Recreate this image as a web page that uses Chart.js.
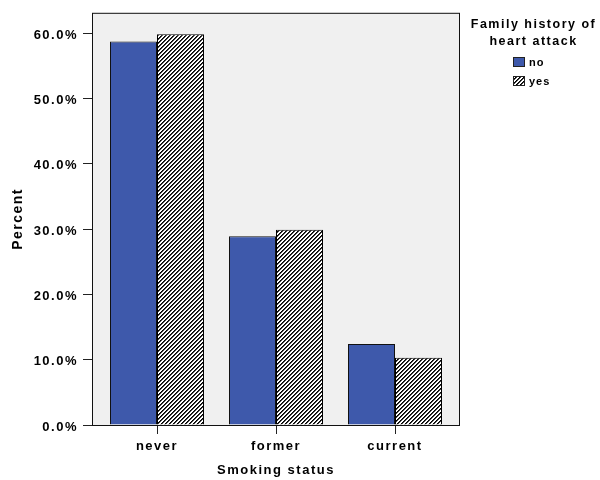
<!DOCTYPE html>
<html>
<head>
<meta charset="utf-8">
<script src="https://cdn.jsdelivr.net/npm/chart.js@4.4.1/dist/chart.umd.min.js"></script>
<style>
  html, body { margin: 0; padding: 0; background: #ffffff; }
  #wrap { width: 600px; height: 480px; }
</style>
</head>
<body>
<div id="wrap"><canvas id="chart" width="600" height="480"></canvas></div>
<script>
// Percent of respondents in each smoking group, split by family history of heart attack
const categories = ['never', 'former', 'current'];
const seriesNames = ['no', 'yes'];
const noValues = [58.7, 28.9, 12.4];
const yesValues = [59.8, 29.9, 10.3];
const yTicks = [0, 10, 20, 30, 40, 50, 60];
const legendTitle = ['Family history of', 'heart attack'];
const xTitle = 'Smoking status';
const yTitle = 'Percent';

const FONT = '"Liberation Sans", Arial, Helvetica, sans-serif';
const BLUE = '#3E59AB';

// Category slots: 119 px apart on a 368 px wide panel, groups of two 47 px bars
const SLOT_PX = 119;
const PANEL_PX = 368;
const X_MIN = -65 / SLOT_PX;
const X_MAX = X_MIN + PANEL_PX / SLOT_PX;

// Diagonal "/" hatch tile for the second series
function makeHatch() {
  const tile = document.createElement('canvas');
  tile.width = 4; tile.height = 4;
  const g = tile.getContext('2d');
  const img = g.createImageData(4, 4);
  for (let y = 0; y < 4; y++) {
    for (let x = 0; x < 4; x++) {
      const k = (x + y) % 4;
      const v = k === 0 ? 0 : (k === 1 ? 60 : 255);
      const i = (y * 4 + x) * 4;
      img.data[i] = v; img.data[i + 1] = v; img.data[i + 2] = v; img.data[i + 3] = 255;
    }
  }
  g.putImageData(img, 0, 0);
  return g.createPattern(tile, 'repeat');
}
const hatch = makeHatch();

// Slightly spaced lettering for every label on the canvas
const letterSpacing = {
  id: 'letterSpacing',
  beforeUpdate(chart) { chart.ctx.letterSpacing = '1.5px'; },
  beforeDraw(chart) { chart.ctx.letterSpacing = '1.5px'; }
};

// Grey plot panel with a thin dark frame
const plotFrame = {
  id: 'plotFrame',
  beforeDraw(chart) {
    const { ctx, chartArea: a } = chart;
    ctx.save();
    ctx.fillStyle = '#F0F0F0';
    ctx.fillRect(a.left, a.top, a.right - a.left, a.bottom - a.top);
    ctx.restore();
  },
  afterDatasetsDraw(chart) {
    const { ctx, chartArea: a } = chart;
    ctx.save();
    ctx.strokeStyle = '#111';
    ctx.lineWidth = 1;
    ctx.strokeRect(a.left + 0.5, a.top + 0.5, a.right - a.left - 1, a.bottom - a.top);
    ctx.restore();
  }
};

// Legend on the right: two-line centred title, then swatches with labels
const sideLegend = {
  id: 'sideLegend',
  afterDraw(chart) {
    const ctx = chart.ctx;
    const x0 = chart.chartArea.right;
    ctx.save();
    ctx.fillStyle = '#000';
    ctx.letterSpacing = '1.5px';
    ctx.textAlign = 'center';
    ctx.textBaseline = 'middle';
    ctx.font = 'bold 12.5px ' + FONT;
    legendTitle.forEach((t, i) => ctx.fillText(t, x0 + 73.5, 25 + i * 16.5));
    ctx.textAlign = 'left';
    ctx.font = 'bold 11px ' + FONT;
    ctx.letterSpacing = '1px';
    chart.data.datasets.forEach((ds, i) => {
      const cy = 62 + i * 19;
      ctx.fillStyle = ds.backgroundColor;
      ctx.fillRect(x0 + 53, cy - 5, 12, 10);
      ctx.strokeStyle = '#222';
      ctx.lineWidth = 1;
      ctx.strokeRect(x0 + 53.5, cy - 4.5, 11, 9);
      ctx.fillStyle = '#000';
      ctx.fillText(ds.label, x0 + 69, cy + 0.5);
    });
    ctx.restore();
  }
};

const toPoints = vals => vals.map((v, i) => ({ x: i, y: v }));

new Chart(document.getElementById('chart'), {
  type: 'bar',
  data: {
    datasets: [
      {
        label: seriesNames[0],
        data: toPoints(noValues),
        backgroundColor: BLUE,
        borderColor: '#111',
        borderWidth: 1
      },
      {
        label: seriesNames[1],
        data: toPoints(yesValues),
        backgroundColor: hatch,
        borderColor: '#000',
        borderWidth: 1
      }
    ]
  },
  options: {
    responsive: false,
    animation: false,
    devicePixelRatio: 1,
    categoryPercentage: 94 / SLOT_PX,
    barPercentage: 1.0,
    layout: { padding: { top: 12, right: 140, bottom: 0, left: 0 } },
    plugins: {
      legend: { display: false },
      tooltip: { enabled: false }
    },
    scales: {
      x: {
        type: 'linear',
        min: X_MIN,
        max: X_MAX,
        offset: false,
        afterBuildTicks: s => { s.ticks = categories.map((c, i) => ({ value: i })); },
        afterFit: s => { s.height = 55; },
        border: { display: false },
        grid: { offset: false, drawOnChartArea: false, drawTicks: true, tickLength: 9, color: '#222' },
        ticks: {
          callback: v => categories[v],
          font: { family: FONT, size: 13, weight: 'bold' },
          color: '#000',
          padding: 5,
          maxRotation: 0,
          autoSkip: false
        },
        title: {
          display: true,
          text: xTitle,
          font: { family: FONT, size: 13, weight: 'bold' },
          color: '#000',
          padding: { top: 2, bottom: 2 }
        }
      },
      y: {
        type: 'linear',
        min: 0,
        max: 63.1,
        afterBuildTicks: s => { s.ticks = yTicks.map(v => ({ value: v })); },
        afterFit: s => { s.width = 92; },
        border: { display: false },
        grid: { drawOnChartArea: false, drawTicks: true, tickLength: 9, color: '#222' },
        ticks: {
          callback: v => v.toFixed(1) + '%',
          font: { family: FONT, size: 13, weight: 'bold' },
          color: '#000',
          padding: 5,
          labelOffset: 2
        },
        title: {
          display: true,
          text: yTitle,
          font: { family: FONT, size: 14, weight: 'bold' },
          color: '#000',
          padding: { top: 10, bottom: 10 }
        }
      }
    }
  },
  plugins: [letterSpacing, plotFrame, sideLegend]
});
</script>
</body>
</html>
